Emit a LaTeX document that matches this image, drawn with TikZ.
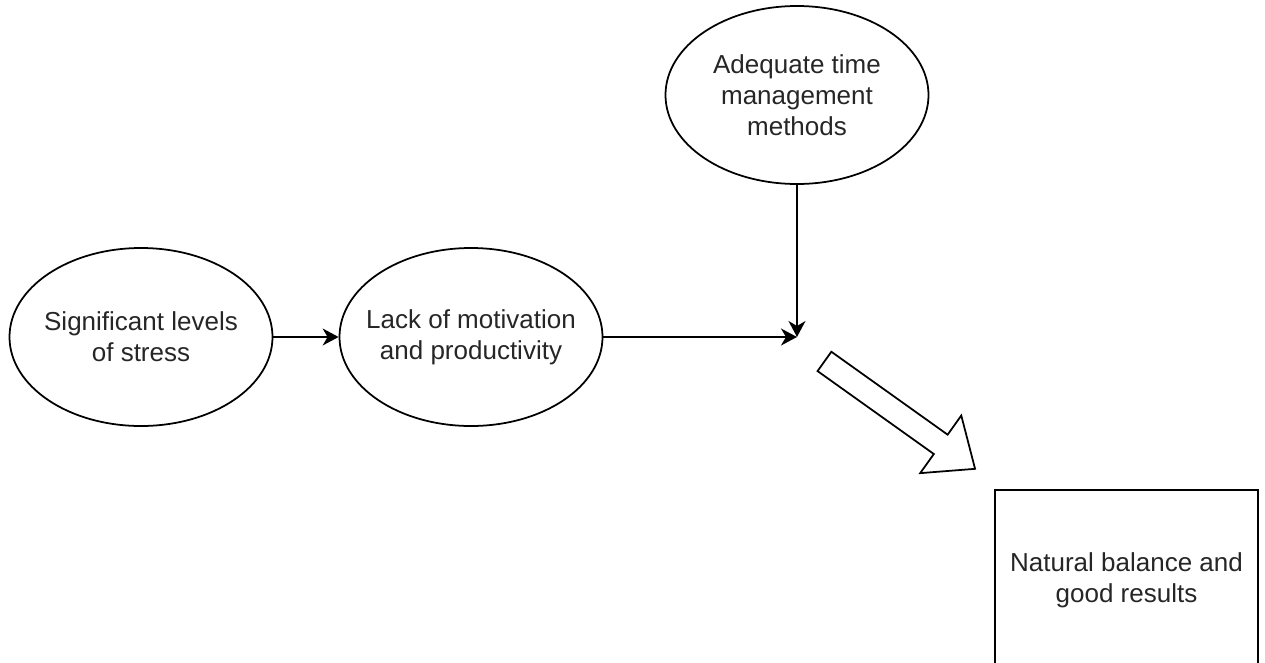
\documentclass[tikz,border=0pt]{standalone}
\usepackage{fontspec}
\setmainfont{Liberation Sans}
\usepackage{tikz}
\usetikzlibrary{shapes}
\usetikzlibrary{arrows.meta}

\tikzset{
    bubble/.style={ellipse, draw, line width=1pt, minimum width=5.26cm, minimum height=3.56cm,
        inner xsep=-1cm, inner ysep=0pt, align=center, text=black!85, font=\fontsize{14.8}{17.8}\selectfont},
    resultbox/.style={rectangle, draw, line width=1pt, minimum width=5.26cm, minimum height=3.6cm,
        inner sep=0pt, align=center, text=black!85, font=\fontsize{14.8}{17.8}\selectfont},
    link/.style={-{Stealth[length=0.32cm, width=0.34cm, inset=0.1cm]}, line width=1pt},
    fatarrow/.style={single arrow, draw, line width=1pt, minimum height=3.7cm, minimum width=1.38cm,
        inner sep=0.22cm, single arrow head extend=0.47cm, single arrow tip angle=80}
}

\begin{document}
\begin{tikzpicture}

            \useasboundingbox (0, 0) rectangle (25.3, -13.24);

            %causes
            \node[bubble] (stress) at (2.82, -6.74) {Significant levels\\of stress};
            \node[bubble] (motiv) at (9.42, -6.74) {Lack of motivation\\and productivity};
            \node[bubble] (timemgmt) at (15.94, -1.9) {Adequate time\\management\\methods};
            \coordinate (meet) at (15.94, -6.74);

            \draw[link] (stress) -- (motiv);
            \draw[link] (motiv) -- (meet);
            \draw[link] (timemgmt) -- (meet);

            %outcome
            \node[fatarrow, rotate=-35.5] (push) at (17.88, -8.22) {};
            \node[resultbox] (result) at (22.53, -11.6) {Natural balance and\\good results};

        \end{tikzpicture}
\end{document}
